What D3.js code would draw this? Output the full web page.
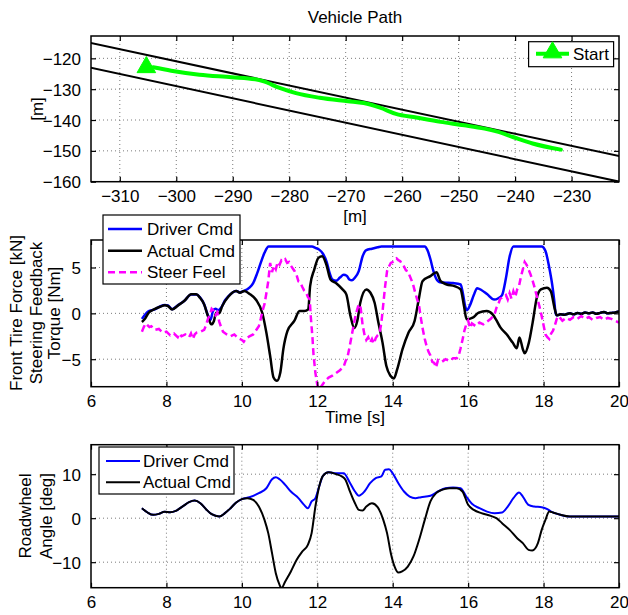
<!DOCTYPE html>
<html><head><meta charset="utf-8">
<script src="https://cdn.jsdelivr.net/npm/d3@7"></script>
<style>body{margin:0;background:#fff} text{font-family:"Liberation Sans",Arial,Helvetica,sans-serif;fill:#000}</style>
</head><body><svg id="c" width="628" height="615"></svg>
<script>
// ---------- DATA ----------
// Panel 1: vehicle path
const pathXTicks = [-310,-300,-290,-280,-270,-260,-250,-240,-230];
const pathYTicks = [-160,-150,-140,-130,-120];
const roadUpperX = [-316, -220];
const roadUpperY = [-114.7, -152.3];
const roadLowerX = [-316, -220];
const roadLowerY = [-122.7, -160.6];
const pathX = [-304.1,-300.9,-295.9,-290.2,-286.0,-284.5,-281.7,-278.8,-274.6,-269.6,-266.8,-263.9,-261.1,-257.5,-253.2,-249.0,-245.4,-243.3,-240.4,-236.9,-231.9];
const pathY = [-122.9,-124.0,-125.3,-126.1,-126.8,-127.5,-129.6,-131.3,-132.8,-133.9,-134.5,-136.0,-138.0,-139.2,-140.6,-141.7,-142.8,-143.7,-145.5,-147.6,-149.6];
const startPoint = [-305.3, -122.9];

// Panel 2: front tire force / steering feedback torque
const timeTicks = [6,8,10,12,14,16,18,20];
const forceTicks = [-5,0,5];
const tForceActual = [7.35,7.42,7.53,7.67,7.83,7.96,8.04,8.15,8.31,8.47,8.66,8.79,8.89,9.0,9.1,9.19,9.26,9.32,9.4,9.48,9.64,9.85,9.95,10.06,10.22,10.38,10.54,10.65,10.75,10.84,10.93,11.02,11.1,11.21,11.39,11.53,11.66,11.76,11.81,11.92,12.03,12.13,12.24,12.35,12.51,12.67,12.77,12.88,12.98,13.06,13.14,13.3,13.41,13.52,13.62,13.73,13.83,13.94,14.03,14.12,14.26,14.42,14.58,14.69,14.79,15.0,15.16,15.27,15.43,15.64,15.8,15.89,15.96,16.12,16.28,16.49,16.65,16.76,16.86,17.02,17.18,17.29,17.36,17.45,17.5,17.61,17.71,17.82,17.93,18.09,18.19,18.3,18.35,18.45,18.55,18.7,18.8,18.9,19.0,19.1,19.2,19.3,19.4,19.5,19.6,19.7,19.8,19.9,20.0];
const forceActual = [-0.94,-0.65,0.07,0.43,0.72,0.87,0.8,0.43,0.87,1.34,2.07,2.07,1.7,0.98,-0.29,-1.2,-0.83,0.07,0.0,0.8,1.81,2.43,2.25,2.43,2.07,1.45,0.07,-2.1,-4.64,-7.0,-7.36,-6.45,-3.9,-1.92,-0.83,0.25,0.25,0.43,2.97,4.78,6.05,6.23,5.33,3.7,3.26,2.61,2.07,-0.29,-1.6,-0.83,1.16,2.61,2.25,1.16,-1.01,-3.19,-5.72,-6.81,-7.1,-6.09,-3.91,-2.1,-0.83,1.52,3.51,4.06,4.49,3.51,3.15,2.97,2.61,0.8,-0.65,-0.47,0.07,0.25,-0.11,-0.83,-1.56,-2.28,-3.19,-3.8,-2.64,-3.91,-4.35,-3.19,-1.01,1.7,2.61,2.79,2.43,0.43,-0.22,-0.1,-0.15,0.0,-0.1,0.05,-0.05,0.1,0.0,0.1,-0.05,0.05,0.15,0.0,0.05,0.1,0.2];
const tForceDriver = [7.35,7.42,7.53,7.67,7.83,7.96,8.04,8.15,8.31,8.47,8.66,8.79,8.89,9.0,9.1,9.17,9.23,9.3,9.38,9.45,9.55,9.64,9.85,9.95,10.06,10.2,10.3,10.4,10.5,10.6,10.71,11.0,11.5,11.86,11.95,12.05,12.15,12.25,12.32,12.4,12.5,12.6,12.7,12.78,12.85,12.92,13.0,13.1,13.2,13.3,13.45,13.6,13.7,14.0,14.5,14.85,14.92,15.0,15.08,15.15,15.25,15.4,15.6,15.8,15.86,15.92,15.97,16.05,16.15,16.24,16.35,16.5,16.69,16.8,16.9,17.0,17.1,17.2,17.5,17.95,18.05,18.15,18.23,18.28,18.32,18.35,18.45,18.55,18.7,18.8,18.9,19.0,19.1,19.2,19.3,19.4,19.5,19.6,19.7,19.8,19.9,20.0];
const forceDriver = [-0.6,-0.2,0.25,0.4,0.75,0.9,0.85,0.45,0.9,1.35,2.05,2.05,1.75,1.0,-0.2,-0.7,0.2,0.5,0.35,0.6,1.4,1.85,2.45,2.3,2.45,2.8,3.3,4.3,5.5,6.6,7.3,7.3,7.3,7.3,7.15,6.95,6.5,5.6,4.5,3.7,3.55,3.9,4.2,4.1,3.7,3.6,3.9,4.6,6.2,6.9,7.05,7.2,7.3,7.3,7.3,7.3,6.9,5.9,4.6,3.8,3.4,3.35,3.3,3.15,2.2,0.8,0.35,0.9,2.0,2.75,2.55,2.1,1.5,1.65,2.0,3.8,6.2,7.3,7.3,7.3,6.8,5.0,3.1,1.5,0.0,-0.22,-0.1,-0.15,0.0,-0.1,0.05,-0.05,0.1,0.0,0.1,-0.05,0.05,0.15,0.0,0.05,0.1,0.2];
const tSteerFeel = [7.35,7.4,7.45,7.5,7.55,7.6,7.7,7.8,7.9,8.0,8.1,8.2,8.3,8.35,8.4,8.5,8.6,8.65,8.7,8.75,8.8,8.9,9.0,9.05,9.1,9.15,9.2,9.25,9.3,9.35,9.4,9.45,9.5,9.6,9.7,9.8,9.9,10.0,10.05,10.1,10.2,10.3,10.35,10.4,10.45,10.5,10.55,10.6,10.65,10.7,10.75,10.8,10.85,10.9,10.95,11.0,11.05,11.1,11.15,11.2,11.25,11.3,11.35,11.4,11.45,11.5,11.55,11.6,11.65,11.7,11.75,11.8,11.83,11.87,11.9,11.95,12.0,12.05,12.1,12.15,12.2,12.3,12.4,12.5,12.6,12.7,12.75,12.8,12.85,12.9,12.95,13.0,13.05,13.1,13.15,13.2,13.25,13.3,13.35,13.4,13.45,13.5,13.55,13.6,13.65,13.7,13.75,13.8,13.85,13.9,13.95,14.0,14.05,14.1,14.15,14.2,14.25,14.3,14.35,14.4,14.45,14.5,14.55,14.6,14.65,14.7,14.75,14.8,14.85,14.9,14.95,15.0,15.05,15.1,15.15,15.2,15.3,15.4,15.5,15.6,15.7,15.75,15.8,15.85,15.9,15.95,16.0,16.05,16.1,16.2,16.3,16.4,16.5,16.6,16.7,16.75,16.8,16.85,16.9,17.0,17.05,17.1,17.15,17.2,17.25,17.3,17.35,17.4,17.45,17.5,17.55,17.6,17.65,17.7,17.75,17.8,17.85,17.9,17.95,18.0,18.05,18.1,18.15,18.2,18.25,18.3,18.35,18.4,18.5,18.6,18.7,18.8,18.9,19.0,19.1,19.2,19.3,19.4,19.5,19.6,19.7,19.8,19.9,20.0];
const steerFeel = [-2.0,-1.5,-1.1,-1.3,-1.5,-1.4,-1.8,-1.7,-2.1,-2.0,-2.4,-2.2,-2.6,-2.2,-2.5,-2.3,-2.6,-2.2,-2.8,-2.3,-2.1,-2.0,-1.8,-1.3,-0.6,-0.2,0.5,0.3,-0.2,0.1,-0.9,-1.5,-2.0,-2.3,-2.5,-2.3,-2.7,-2.9,-3.1,-2.8,-2.5,-2.3,-2.0,-1.7,-1.4,-0.6,0.3,1.0,2.2,3.5,5.5,4.5,5.2,4.8,5.6,5.3,5.8,5.7,5.9,5.5,5.6,5.2,4.9,4.6,4.2,3.5,3.4,2.9,2.5,2.3,1.8,1.5,-0.5,-2.5,-4.5,-6.5,-7.8,-8.3,-8.0,-7.7,-7.4,-7.0,-6.8,-6.5,-6.2,-5.8,-5.2,-4.8,-3.8,-2.7,-1.6,-0.5,0.3,1.0,0.6,-1.2,-2.3,-2.9,-2.6,-3.2,-2.8,-3.3,-2.7,-2.4,-2.2,-1.0,1.0,3.0,4.6,5.1,5.5,5.6,5.9,6.0,5.8,5.7,5.3,5.1,4.7,4.6,4.1,3.6,3.0,2.2,1.5,0.8,-0.6,-1.8,-2.8,-3.6,-4.2,-4.6,-5.3,-5.4,-5.9,-5.1,-5.3,-5.0,-5.2,-4.9,-4.9,-4.6,-3.8,-2.9,-1.9,-1.2,-0.8,-1.6,-1.1,-1.4,-1.0,-1.2,-0.9,-0.6,-0.1,0.6,1.0,1.6,1.7,2.0,1.5,2.2,1.6,2.4,1.8,2.6,3.0,4.0,4.8,5.6,5.3,4.8,4.3,3.7,3.0,2.2,1.4,0.6,-0.3,-1.3,-2.3,-2.6,-2.8,-2.2,-1.9,-1.3,-0.6,-0.3,-0.8,-0.5,-0.7,-0.4,-0.6,-0.3,-0.6,-0.4,-0.7,-0.5,-0.4,-0.7,-0.5,-0.6,-0.8,-1.0];

// Panel 3: roadwheel angle
const angleTicks = [-10,0,10];
const tAngleActual = [7.35,7.5,7.65,7.8,7.95,8.1,8.25,8.45,8.6,8.75,8.9,9.05,9.2,9.4,9.55,9.7,9.85,10.0,10.15,10.3,10.45,10.6,10.7,10.8,10.9,11.0,11.05,11.15,11.3,11.45,11.6,11.75,11.85,11.95,12.05,12.15,12.3,12.5,12.65,12.75,12.85,13.0,13.1,13.2,13.3,13.45,13.6,13.75,13.85,13.95,14.05,14.15,14.25,14.4,14.55,14.7,14.85,15.0,15.15,15.3,15.5,15.7,15.85,16.0,16.15,16.35,16.6,16.75,16.9,17.1,17.3,17.45,17.6,17.7,17.85,17.95,18.05,18.15,18.25,18.45,18.7,19.0,20.0];
const angleActual = [2.27,1.29,0.76,0.98,1.44,1.36,1.67,2.8,3.64,4.0,3.4,2.05,0.9,0.38,1.14,2.27,3.56,4.32,4.55,4.17,2.65,-0.38,-3.4,-7.95,-12.5,-15.15,-15.9,-14.4,-12.1,-9.5,-7.6,-6.06,-3.4,2.65,7.2,9.6,10.45,10.0,9.5,8.7,6.44,3.4,1.9,1.74,2.65,3.4,2.5,-0.38,-3.4,-7.95,-11.0,-12.35,-12.1,-11.0,-8.7,-4.9,-0.38,3.8,5.7,6.44,6.8,6.8,6.06,3.03,1.9,1.14,0.53,0.0,-1.14,-2.65,-4.55,-5.68,-7.2,-7.35,-5.68,-2.65,-0.38,1.5,1.3,0.76,0.38,0.38,0.38];
const tAngleDriver = [7.35,7.5,7.65,7.8,7.95,8.1,8.25,8.45,8.6,8.75,8.9,9.05,9.2,9.4,9.55,9.7,9.85,10.0,10.2,10.45,10.65,10.8,10.9,11.0,11.15,11.3,11.5,11.65,11.75,11.85,11.95,12.05,12.15,12.3,12.5,12.7,12.85,13.0,13.1,13.25,13.4,13.55,13.7,13.8,13.9,14.0,14.15,14.3,14.45,14.6,14.75,15.0,15.2,15.4,15.6,15.8,15.95,16.1,16.3,16.5,16.7,16.9,17.05,17.2,17.35,17.45,17.6,17.75,17.95,18.1,18.2,18.45,18.7,19.0,20.0];
const angleDriver = [2.27,1.29,0.76,0.98,1.44,1.36,1.67,2.8,3.64,4.0,3.4,2.05,0.9,0.38,1.14,2.27,3.56,4.32,4.77,5.68,6.8,8.86,9.3,8.86,7.58,6.06,4.55,3.03,2.27,3.8,4.55,7.2,9.6,10.45,10.2,10.2,8.3,6.06,5.1,6.06,7.95,9.1,9.5,11.0,11.1,10.2,7.95,6.06,4.92,4.55,4.77,5.1,6.06,6.8,6.97,6.8,4.92,3.26,2.27,1.5,1.14,1.29,2.65,4.55,5.83,4.92,3.03,2.65,2.5,2.05,1.5,0.76,0.38,0.38,0.38];

// ---------- DRAWING ----------
const svg = d3.select("#c");
const FS = 17;
let clipId = 0;

function makePanel(xd, yd, xr, yr, xt, yt){
  const x = d3.scaleLinear().domain(xd).range(xr);
  const y = d3.scaleLinear().domain(yd).range(yr);
  const g = svg.append("g");
  const id = "clip" + (clipId++);
  svg.append("clipPath").attr("id", id).append("rect")
    .attr("x", xr[0]).attr("y", yr[1]).attr("width", xr[1]-xr[0]).attr("height", yr[0]-yr[1]);
  const grid = g.append("g").attr("stroke", "#7a7a7a").attr("stroke-width", 1).attr("stroke-dasharray", "1,3");
  xt.forEach(v => { const px = x(v); if (px > xr[0]+1 && px < xr[1]-1)
    grid.append("line").attr("x1", px).attr("x2", px).attr("y1", yr[1]).attr("y2", yr[0]); });
  yt.forEach(v => { const py = y(v); if (py > yr[1]+1 && py < yr[0]-1)
    grid.append("line").attr("x1", xr[0]).attr("x2", xr[1]).attr("y1", py).attr("y2", py); });
  const plot = g.append("g").attr("clip-path", "url(#" + id + ")");
  const tl = 5;
  const fmt = d => d < 0 ? "\u2212" + Math.abs(d) : d;
  const axB = g.append("g").attr("transform", `translate(0,${yr[0]})`)
    .call(d3.axisBottom(x).tickValues(xt).tickSize(-tl).tickFormat(fmt));
  const axT = g.append("g").attr("transform", `translate(0,${yr[1]})`)
    .call(d3.axisTop(x).tickValues(xt).tickSize(-tl).tickFormat(""));
  const axL = g.append("g").attr("transform", `translate(${xr[0]},0)`)
    .call(d3.axisLeft(y).tickValues(yt).tickSize(-tl).tickPadding(tl+5).tickFormat(fmt));
  const axR = g.append("g").attr("transform", `translate(${xr[1]},0)`)
    .call(d3.axisRight(y).tickValues(yt).tickSize(-tl).tickFormat(""));
  [axB, axT, axL, axR].forEach(a => {
    a.select(".domain").remove();
    a.selectAll(".tick line").attr("stroke", "#000").attr("stroke-width", 1.2);
    a.selectAll("text").attr("font-size", FS).attr("font-family", "Liberation Sans, Arial, sans-serif").attr("fill", "#000");
  });
  axB.selectAll("text").attr("dy", "0").attr("y", 20.5);
  axL.selectAll("text").attr("dy", "0.36em");
  g.append("rect").attr("x", xr[0]).attr("y", yr[1]).attr("width", xr[1]-xr[0]).attr("height", yr[0]-yr[1])
    .attr("fill", "none").attr("stroke", "#000").attr("stroke-width", 1.5);
  return {x, y, g, plot};
}

function yLabel(lines, xs, cy){
  lines.forEach((t, i) => {
    svg.append("text").attr("transform", `translate(${xs[i]},${cy}) rotate(-90)`)
      .attr("text-anchor", "middle").attr("font-size", FS).text(t);
  });
}

// ----- Panel 1 -----
const P1 = makePanel([-315.1, -221.6], [-160, -112.76], [91, 619], [181.7, 36], pathXTicks, pathYTicks);
const ln1 = d3.line().x(d => P1.x(d[0])).y(d => P1.y(d[1]));
P1.plot.append("path").attr("d", ln1(d3.zip(roadUpperX, roadUpperY))).attr("fill", "none").attr("stroke", "#000").attr("stroke-width", 2);
P1.plot.append("path").attr("d", ln1(d3.zip(roadLowerX, roadLowerY))).attr("fill", "none").attr("stroke", "#000").attr("stroke-width", 2);
P1.plot.append("path").attr("d", ln1.curve(d3.curveMonotoneX)(d3.zip(pathX, pathY))).attr("fill", "none").attr("stroke", "#00ff00").attr("stroke-width", 4).attr("stroke-linecap", "round");
const tri = d3.symbol().type(d3.symbolTriangle).size(150);
svg.append("path").attr("d", tri()).attr("transform", `translate(${P1.x(startPoint[0])},${P1.y(startPoint[1])})`).attr("fill", "#00ff00").attr("stroke", "#00ff00").attr("stroke-width", 1);
svg.append("text").attr("x", 355).attr("y", 23).attr("text-anchor", "middle").attr("font-size", FS).text("Vehicle Path");
svg.append("text").attr("x", 355).attr("y", 221.5).attr("text-anchor", "middle").attr("font-size", FS).text("[m]");
yLabel(["[m]"], [43], 109);
svg.append("rect").attr("x", 528.6).attr("y", 41.7).attr("width", 85).attr("height", 25).attr("fill", "#fff").attr("stroke", "#000").attr("stroke-width", 1.2);
svg.append("line").attr("x1", 536).attr("x2", 569).attr("y1", 53.8).attr("y2", 53.8).attr("stroke", "#00ff00").attr("stroke-width", 4);
svg.append("path").attr("d", tri()).attr("transform", "translate(552.5,52.5)").attr("fill", "#00ff00").attr("stroke", "#00ff00");
svg.append("text").attr("x", 573).attr("y", 59.7).attr("font-size", FS).text("Start");

// ----- Panel 2 -----
const P2 = makePanel([6, 20], [-8, 8], [91, 619], [386.7, 240], timeTicks, forceTicks);
const ln2 = d3.line().x(d => P2.x(d[0])).y(d => P2.y(d[1]));
P2.plot.append("path").attr("d", ln2.curve(d3.curveMonotoneX)(d3.zip(tForceDriver, forceDriver))).attr("fill", "none").attr("stroke", "#0000ff").attr("stroke-width", 2.5);
P2.plot.append("path").attr("d", ln2.curve(d3.curveMonotoneX)(d3.zip(tForceActual, forceActual))).attr("fill", "none").attr("stroke", "#000").attr("stroke-width", 2.5);
P2.plot.append("path").attr("d", ln2.curve(d3.curveLinear)(d3.zip(tSteerFeel, steerFeel))).attr("fill", "none").attr("stroke", "#ff00ff").attr("stroke-width", 2.5).attr("stroke-dasharray", "7,4");
svg.append("text").attr("x", 355).attr("y", 423).attr("text-anchor", "middle").attr("font-size", FS).text("Time [s]");
yLabel(["Front Tire Force [kN]", "Steering Feedback", "Torque [Nm]"], [22, 42, 60], 313);
svg.append("rect").attr("x", 103).attr("y", 215).attr("width", 137).attr("height", 69).attr("fill", "#fff").attr("stroke", "#000").attr("stroke-width", 1.2);
const leg2 = [["Driver Cmd", "#0000ff", null], ["Actual Cmd", "#000", null], ["Steer Feel", "#ff00ff", "7,4"]];
const leg2Y = [229, 250.7, 272.3];
leg2.forEach((e, i) => {
  const l = svg.append("line").attr("x1", 108).attr("x2", 142).attr("y1", leg2Y[i]).attr("y2", leg2Y[i]).attr("stroke", e[1]).attr("stroke-width", 2.5);
  if (e[2]) l.attr("stroke-dasharray", e[2]);
  svg.append("text").attr("x", 147).attr("y", leg2Y[i] + 6).attr("font-size", FS).text(e[0]);
});

// ----- Panel 3 -----
const P3 = makePanel([6, 20], [-15.8, 16.7], [91, 619], [587.7, 444.7], timeTicks, angleTicks);
const ln3 = d3.line().x(d => P3.x(d[0])).y(d => P3.y(d[1])).curve(d3.curveMonotoneX);
P3.plot.append("path").attr("d", ln3(d3.zip(tAngleDriver, angleDriver))).attr("fill", "none").attr("stroke", "#0000ff").attr("stroke-width", 2);
P3.plot.append("path").attr("d", ln3(d3.zip(tAngleActual, angleActual))).attr("fill", "none").attr("stroke", "#000").attr("stroke-width", 2);
yLabel(["Roadwheel", "Angle [deg]"], [31, 52], 516);
svg.append("rect").attr("x", 99).attr("y", 447).attr("width", 135).attr("height", 47).attr("fill", "#fff").attr("stroke", "#000").attr("stroke-width", 1.2);
const leg3 = [["Driver Cmd", "#0000ff"], ["Actual Cmd", "#000"]];
const leg3Y = [461, 482.3];
leg3.forEach((e, i) => {
  svg.append("line").attr("x1", 106).attr("x2", 140).attr("y1", leg3Y[i]).attr("y2", leg3Y[i]).attr("stroke", e[1]).attr("stroke-width", 2);
  svg.append("text").attr("x", 143).attr("y", leg3Y[i] + 6).attr("font-size", FS).text(e[0]);
});
</script></body></html>
